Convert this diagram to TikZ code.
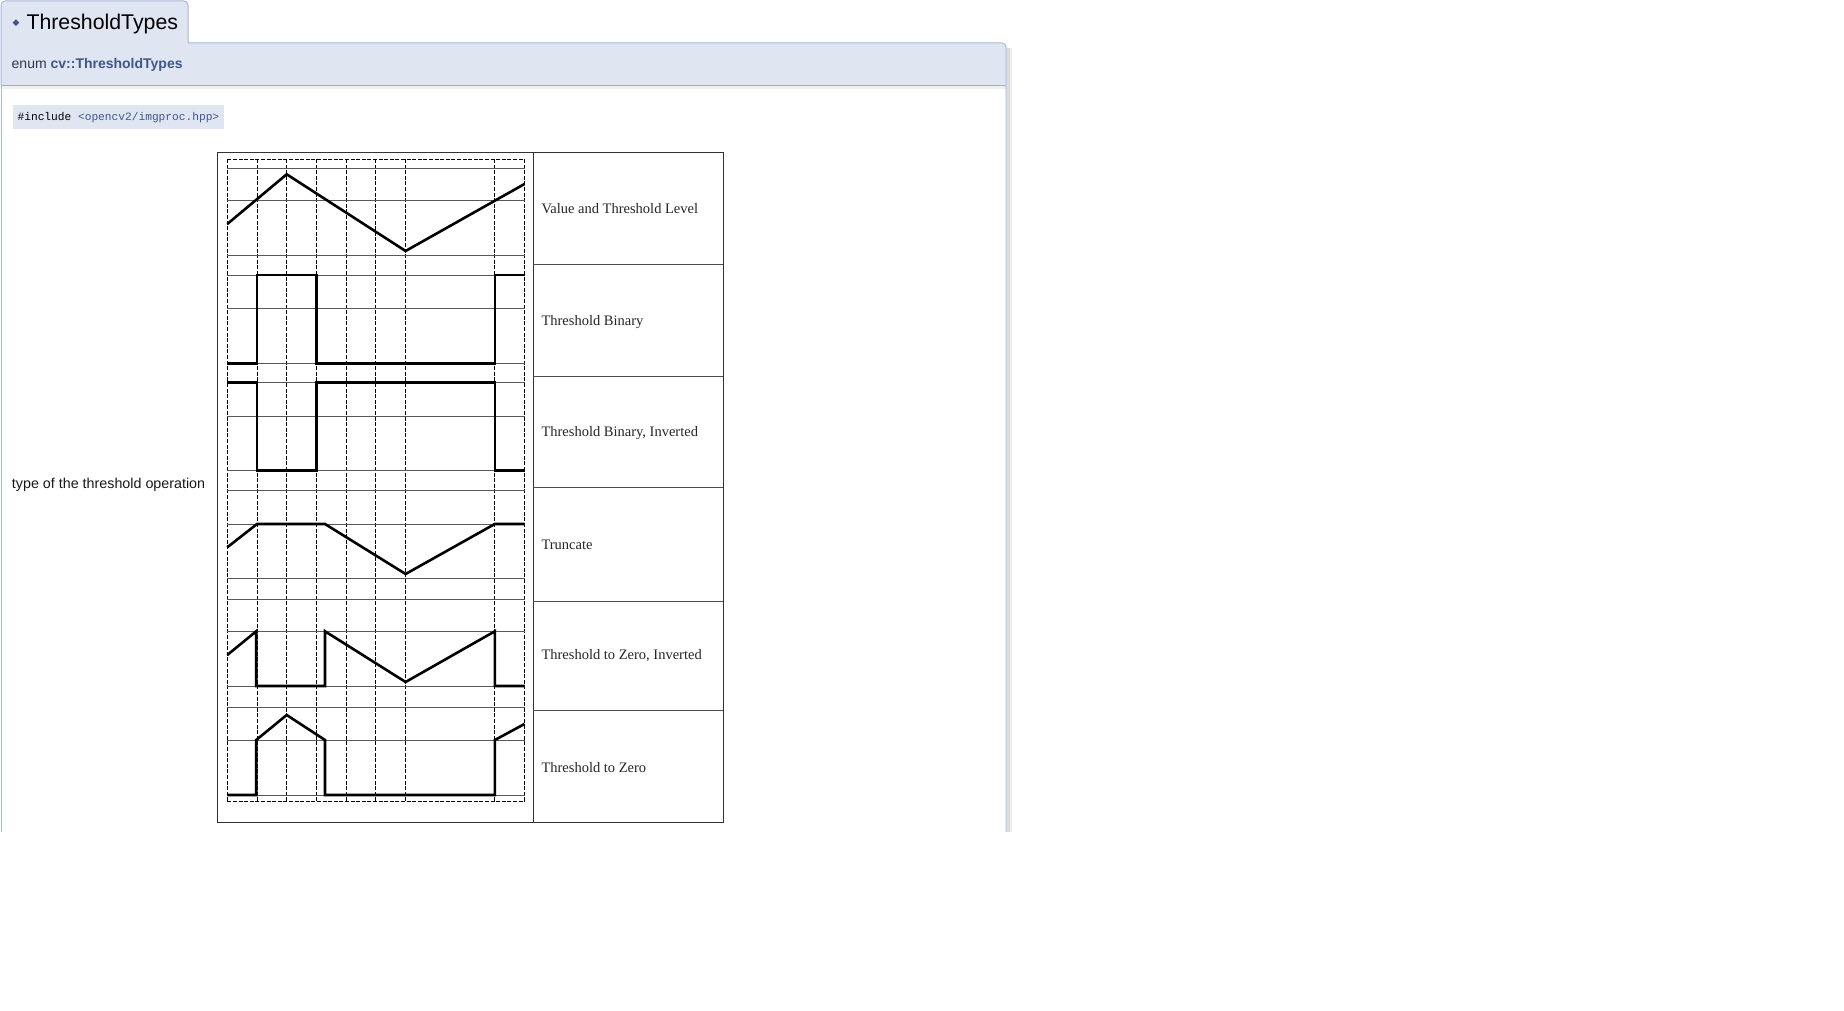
\documentclass[tikz,border=0pt]{standalone}
\usepackage{fontspec}
\setmainfont{Liberation Sans}
\newfontfamily\serifA{Liberation Serif}
\newfontfamily\monoA{Liberation Mono}
\newfontfamily\dejavu{DejaVu Sans}
\definecolor{hdrbg}{RGB}{223,229,241}
\definecolor{hdrborder}{RGB}{168,184,217}
\definecolor{linkcol}{RGB}{61,87,140}
\definecolor{enumcol}{RGB}{45,55,80}
\definecolor{codebg}{RGB}{223,229,241}
\begin{document}
\begin{tikzpicture}[x=1pt,y=-1pt,
  txt/.style={inner sep=0pt,outer sep=0pt},
  lbl/.style={txt,anchor=base west,font=\serifA\fontsize{14.5}{17}\selectfont,text=black!85},
  dashline/.style={black,line width=0.9pt,dash pattern=on 4pt off 1.6pt},
  gridline/.style={black!65,line width=0.9pt},
  wave/.style={black,line width=2.6pt,line join=miter,line cap=butt},
  tabline/.style={black!80,line width=0.9pt}]
\useasboundingbox[fill=white] (0,0) rectangle (1844,1011);
% tab + header
\fill[hdrbg] (1,44) -- (1,5) arc[start angle=180,end angle=270,radius=4] -- (184,1) arc[start angle=270,end angle=360,radius=4] -- (188,44) -- cycle;
\fill[hdrbg] (1,43) -- (1002,43) arc[start angle=270,end angle=360,radius=4] -- (1006,85.5) -- (1,85.5) -- cycle;
\draw[hdrborder,line width=1pt] (1,86) -- (1,5) arc[start angle=180,end angle=270,radius=4] -- (184,1) arc[start angle=270,end angle=360,radius=4] -- (188,43) -- (1002,43) arc[start angle=270,end angle=360,radius=4] -- (1006,832);
% shadows
\fill[black,opacity=0.07] (1006.6,48) rectangle (1012,832);
\fill[black,opacity=0.07] (1006.6,48) rectangle (1009.5,832);
\draw[black!32,line width=1.3pt] (1,85.3) -- (1006,85.3);
\fill[black,opacity=0.06] (1.5,86) rectangle (1006,89);
% doc box left border
\draw[hdrborder,line width=1pt] (1.5,85) -- (1.5,832);
% header texts
\node[txt,text=linkcol,font=\dejavu\fontsize{9}{10}\selectfont] (dia) at (16,22.8) {◆};
\node[txt,anchor=base west,font=\fontsize{21.3}{25}\selectfont] (title) at (26.5,29.5) {ThresholdTypes};
\node[txt,anchor=base west,font=\fontsize{14}{17}\selectfont,text=enumcol] (proto) at (11.7,69) {enum \textcolor{linkcol}{\textbf{cv::ThresholdTypes}}};
% include box
\fill[codebg] (13,104.7) rectangle (223.5,129.4);
\node[txt,anchor=base west,font=\monoA\fontsize{11.2}{13}\selectfont] (incl) at (17.6,120.6) {\#include \textcolor{linkcol}{<opencv2/imgproc.hpp>}};
% left description
\node[txt,anchor=base west,font=\fontsize{14.3}{17}\selectfont,text=black!90] (desc) at (12,488) {type of the threshold operation};
% table
\draw[tabline] (217.5,152) rectangle (723,822);
\draw[tabline] (533,152) -- (533,822);
\foreach \y in {264,376,487,601,710} \draw[black!70,line width=0.9pt] (533,\y) -- (723,\y);
% dashed grid
\foreach \x in {227.3,257.0,286.7,316.5,346.2,375.9,405.6,494.8,524.5}
  \draw[dashline] (\x,159) -- (\x,801);
\draw[dashline] (227.3,159) -- (524.5,159);
\draw[dashline] (227.3,801) -- (524.5,801);
% panel lines
\foreach \y in {168.3,200.7,255,275,308.3,363.3,382.7,416.7,470.7,490.7,524,578.7,599.3,631.3,686,707.3,740,795}
  \draw[gridline] (227.3,\y) -- (524.5,\y);
% waves
\draw[wave] (227.3,224) -- (286.7,174.3) -- (405.6,251) -- (524.5,184);
\draw[wave] (227.3,363.3) -- (257.0,363.3) -- (257.0,275) -- (316.5,275) -- (316.5,363.3) -- (494.8,363.3) -- (494.8,275) -- (524.5,275);
\draw[wave] (227.3,382.7) -- (257.0,382.7) -- (257.0,470.7) -- (316.5,470.7) -- (316.5,382.7) -- (494.8,382.7) -- (494.8,470.7) -- (524.5,470.7);
\draw[wave] (227.3,547.3) -- (257.0,524) -- (325,524) -- (405.6,574) -- (494.8,524) -- (524.5,524);
\draw[wave] (227.3,655) -- (256.2,631.3) -- (256.2,686) -- (325,686) -- (325,631.3) -- (405.6,682) -- (494.8,631.3) -- (494.8,686) -- (524.5,686);
\draw[wave] (227.3,795) -- (256.2,795) -- (256.2,740) -- (286.7,715) -- (325,740) -- (325,795) -- (494.8,795) -- (494.8,740) -- (524.5,724);
% labels
\node[lbl] (l1) at (541.5,214) {Value and Threshold Level};
\node[lbl] (l2) at (541.5,325) {Threshold Binary};
\node[lbl] (l3) at (541.5,436.5) {Threshold Binary, Inverted};
\node[lbl] (l4) at (541.5,549) {Truncate};
\node[lbl] (l5) at (541.5,659) {Threshold to Zero, Inverted};
\node[lbl] (l6) at (541.5,772) {Threshold to Zero};
\end{tikzpicture}
\end{document}
